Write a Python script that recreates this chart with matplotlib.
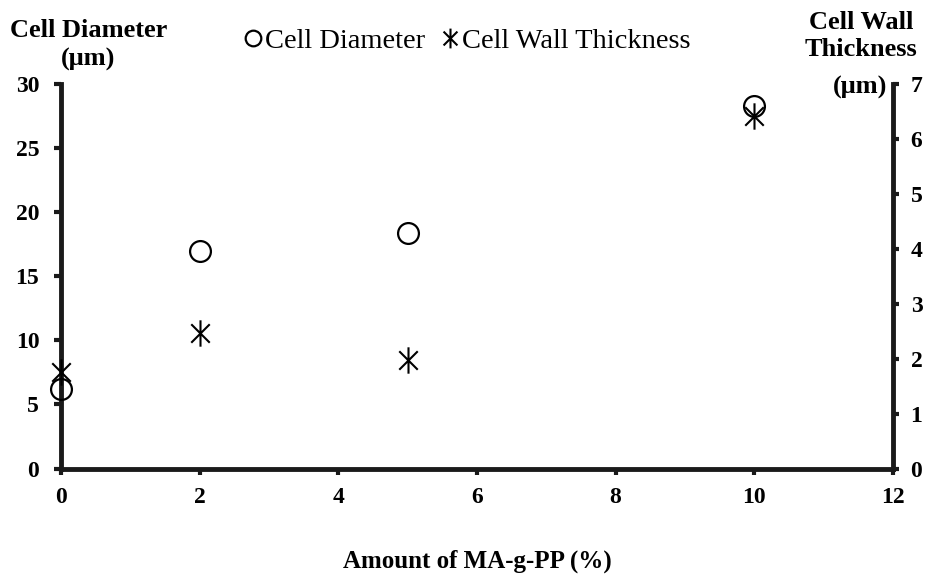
import matplotlib
matplotlib.use("Agg")
import matplotlib.pyplot as plt
from matplotlib.path import Path

plt.rcParams["font.family"] = ["Liberation Serif", "DejaVu Serif"]

# MA-g-PP amount (%)
ma_amount = [0, 2, 5, 10]
cell_diameter = [6.2, 17.0, 18.4, 28.3]          # um, left axis
wall_thickness = [1.76, 2.47, 1.98, 6.42]        # um, right axis

x_ticks = [0, 2, 4, 6, 8, 10, 12]
left_ticks = [0, 5, 10, 15, 20, 25, 30]
right_ticks = [0, 1, 2, 3, 4, 5, 6, 7]

# six-armed asterisk: an "x" with a vertical stroke through it
star = Path([(-0.7, -0.7), (0.7, 0.7), (-0.7, 0.7), (0.7, -0.7), (0, -1), (0, 1)],
            [Path.MOVETO, Path.LINETO, Path.MOVETO, Path.LINETO, Path.MOVETO, Path.LINETO])

fig = plt.figure(figsize=(9.33, 5.8), dpi=100)
ax = fig.add_axes([0.0659, 0.1922, 0.8907, 0.663])
ax2 = ax.twinx()

circ, = ax.plot(ma_amount, cell_diameter, linestyle="none", marker="o", ms=15,
                mfc="none", mec="black", mew=1.6, zorder=3, clip_on=False)
ast, = ax2.plot(ma_amount, wall_thickness, linestyle="none", marker=star, ms=19,
                mfc="none", mec="black", mew=1.5, zorder=4, clip_on=False)

ax.set_xlim(0, 12)
ax.set_ylim(0, 30)
ax2.set_ylim(0, 7)
ax.set_xticks(x_ticks)
ax.set_yticks(left_ticks)
ax2.set_yticks(right_ticks)

for a in (ax, ax2):
    a.spines["top"].set_visible(False)
    for side in ("left", "right", "bottom"):
        a.spines[side].set_linewidth(3.5)
        a.spines[side].set_color("#1a1a1a")
    a.tick_params(axis="both", direction="out", length=5, width=3,
                  labelsize=17, color="#1a1a1a")
ax.spines["right"].set_visible(False)
ax2.spines["left"].set_visible(False)
ax2.spines["bottom"].set_visible(False)

ax.tick_params(axis="y", pad=11)
ax.tick_params(axis="x", pad=9, length=4)
ax2.tick_params(axis="y", pad=9, length=4)
for lbl in ax.get_xticklabels() + ax.get_yticklabels() + ax2.get_yticklabels():
    lbl.set_fontweight("bold")

ax.set_xlabel("Amount of MA-g-PP (%)", fontsize=18, fontweight="bold", labelpad=30)

fig.text(0.011, 0.948, "Cell Diameter", fontsize=19, fontweight="bold",
         ha="left", va="center")
fig.text(0.094, 0.897, "(\u03bcm)", fontsize=19, fontweight="bold",
         ha="center", va="center")
fig.text(0.923, 0.961, "Cell Wall", fontsize=19, fontweight="bold",
         ha="center", va="center")
fig.text(0.923, 0.914, "Thickness", fontsize=19, fontweight="bold",
         ha="center", va="center")
fig.text(0.951, 0.849, "(\u03bcm)", fontsize=19, fontweight="bold",
         ha="right", va="center")

fig.legend([circ, ast], ["Cell Diameter", "Cell Wall Thickness"],
           loc="center", bbox_to_anchor=(0.501, 0.93), ncol=2, frameon=False,
           fontsize=20.5, handletextpad=0.1, columnspacing=0.6,
           handlelength=0.6, markerscale=0.75)

fig.savefig("out.png", dpi=100, facecolor="white")
